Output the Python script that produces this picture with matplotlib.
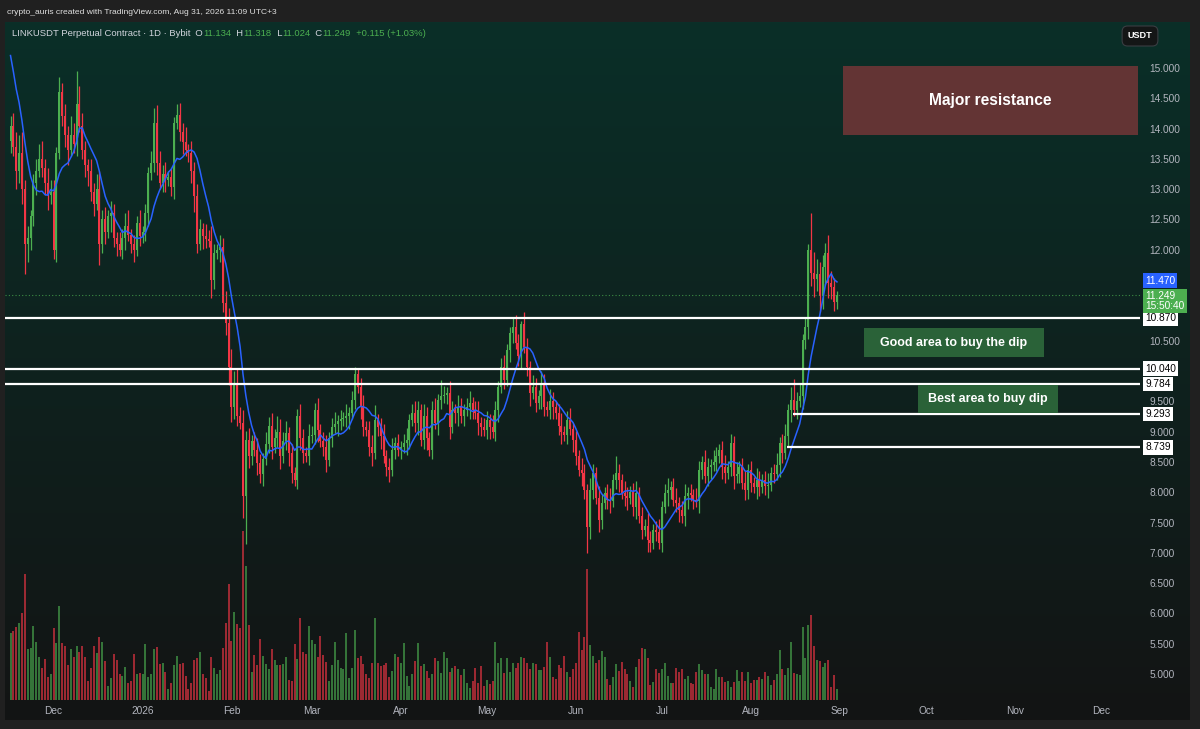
import numpy as np
import pandas as pd
import matplotlib
matplotlib.use("Agg")
import matplotlib.pyplot as plt
import matplotlib.dates as mdates
import matplotlib.transforms as mtransforms
from matplotlib.patches import Rectangle

plt.rcParams['font.family'] = ['Liberation Sans', 'DejaVu Sans']

# ---------------- data ----------------
first_day = '2025-11-16'
first_open = 13.8
# closes before the visible window, only used to seed the 9-day MA
pre_closes = [16.1, 15.9, 15.6, 15.7, 15.3, 15.0, 14.8, 14.4]

close_nov = [14.05, 13.7, 13.3, 13.6, 13.0, 12.1, 12.2, 12.55, 13.1, 13.3, 13.5, 13.35, 13.1, 12.9, 12.95]
close_dec = [12.0, 13.6, 14.6, 14.2, 13.9, 13.65, 13.9, 13.75, 14.4, 14.05, 13.65, 13.4, 13.3, 12.95, 12.75,
             13.0, 12.1, 12.5, 12.3, 12.55, 12.6, 12.2, 12.1, 12.0, 12.2, 12.4, 12.25, 12.1, 12.0, 12.45, 12.22]
close_jan = [12.3, 12.6, 13.26, 13.43, 14.09, 13.43, 13.1, 13.25, 13.15, 13.2, 13.04, 14.09, 14.22, 13.95, 13.78,
             13.65, 13.6, 13.3, 12.88, 12.1, 12.35, 12.22, 12.18, 12.15, 11.5, 11.95, 12.0, 12.05, 11.12, 10.79, 10.07]
close_feb = [9.41, 9.8, 9.25, 9.15, 7.93, 8.86, 8.6, 8.85, 8.7, 8.48, 8.3, 8.55, 8.8, 9.1, 8.75,
             8.9, 9.0, 8.59, 8.85, 8.97, 8.64, 8.31, 8.2, 9.25, 8.9, 8.64, 8.6, 8.92]
close_mar = [8.95, 9.36, 9.03, 8.85, 8.75, 8.53, 8.9, 9.08, 9.12, 9.17, 9.2, 9.22, 9.25, 9.3, 9.52,
             9.95, 9.74, 9.41, 9.08, 9.03, 8.75, 8.64, 9.19, 9.08, 8.92, 8.59, 8.42, 8.37, 8.7, 8.81, 8.7]
close_apr = [8.75, 8.81, 8.86, 9.19, 9.3, 9.14, 9.36, 8.86, 9.25, 8.9, 8.7, 9.36, 9.14, 9.52, 9.58,
             9.6, 9.63, 9.08, 9.36, 9.3, 9.41, 9.25, 9.35, 9.41, 9.47, 9.36, 9.3, 9.14, 9.08, 9.03]
close_may = [9.19, 9.08, 9.0, 9.36, 9.74, 10.07, 9.85, 10.35, 10.62, 10.73, 10.46, 10.24, 10.78, 10.4, 10.07,
             9.63, 9.74, 9.47, 9.58, 9.8, 9.41, 9.35, 9.5, 9.41, 9.3, 9.1, 9.0, 8.95, 9.19, 9.05, 8.86]
close_jun = [8.6, 8.37, 8.31, 8.04, 7.43, 8.04, 8.31, 7.9, 7.54, 7.82, 7.98, 7.87, 7.85, 8.2, 8.31,
             8.2, 7.98, 7.93, 7.9, 8.0, 7.76, 7.98, 7.6, 7.38, 7.45, 7.21, 7.16, 7.38, 7.35, 7.16]
close_jul = [7.76, 7.98, 8.04, 8.09, 7.87, 7.82, 7.71, 7.6, 7.93, 7.98, 7.95, 7.87, 7.85, 8.37, 8.5,
             8.26, 8.42, 8.45, 8.5, 8.59, 8.7, 8.42, 8.31, 8.42, 8.81, 8.26, 8.3, 8.42, 8.15, 8.04, 8.37]
close_aug = [8.15, 8.09, 8.2, 8.09, 8.2, 8.1, 8.12, 8.31, 8.3, 8.45, 8.81, 8.64, 8.92, 9.36, 9.52,
             9.36, 9.5, 9.58, 10.51, 10.73, 12.0, 11.61, 11.52, 11.6, 11.23, 11.72, 11.94, 11.45, 11.39, 11.134, 11.249]

# wick length above the body / below the body, one per day
wick_up = [
    0.15, 0.2, 0.25, 0.3, 0.35, 0.15, 0.2, 0.1, 0.15, 0.2, 0.25, 0.3, 0.15, 0.25, 0.2,
    0.2, 0.1, 0.25, 0.15, 0.2, 0.15, 0.3, 0.2, 0.55, 0.3, 0.2, 0.15, 0.1, 0.2, 0.15, 0.25, 0.3, 0.15, 0.2, 0.1, 0.2, 0.15, 0.1, 0.2, 0.15, 0.2, 0.25, 0.1, 0.15, 0.1, 0.2,
    0.1, 0.15, 0.1, 0.2, 0.25, 0.3, 0.2, 0.15, 0.2, 0.1, 0.15, 0.1, 0.18, 0.2, 0.15, 0.25, 0.1, 0.2, 0.15, 0.2, 0.15, 0.1, 0.2, 0.15, 0.25, 0.15, 0.1, 0.2, 0.15, 0.2, 0.25,
    0.3, 0.2, 0.25, 0.15, 0.2, 0.15, 0.2, 0.1, 0.15, 0.2, 0.15, 0.1, 0.2, 0.14, 0.2, 0.15, 0.25, 0.2, 0.15, 0.2, 0.1, 0.15, 0.1, 0.12, 0.2, 0.15, 0.1, 0.2,
    0.15, 0.12, 0.2, 0.1, 0.15, 0.2, 0.1, 0.15, 0.2, 0.1, 0.15, 0.1, 0.2, 0.1, 0.15, 0.12, 0.1, 0.15, 0.2, 0.1, 0.15, 0.2, 0.25, 0.1, 0.15, 0.2, 0.1, 0.15, 0.2, 0.1, 0.15,
    0.1, 0.15, 0.2, 0.1, 0.15, 0.2, 0.15, 0.1, 0.2, 0.15, 0.1, 0.15, 0.2, 0.1, 0.27, 0.15, 0.1, 0.2, 0.15, 0.1, 0.2, 0.15, 0.1, 0.15, 0.2, 0.1, 0.15, 0.2, 0.1, 0.15,
    0.15, 0.1, 0.2, 0.15, 0.1, 0.15, 0.2, 0.1, 0.1, 0.14, 0.2, 0.15, 0.05, 0.2, 0.15, 0.1, 0.2, 0.15, 0.1, 0.2, 0.15, 0.1, 0.2, 0.15, 0.1, 0.15, 0.2, 0.1, 0.15, 0.2, 0.1,
    0.15, 0.1, 0.2, 0.15, 0.1, 0.2, 0.15, 0.1, 0.2, 0.15, 0.1, 0.15, 0.2, 0.1, 0.28, 0.15, 0.1, 0.2, 0.15, 0.1, 0.15, 0.2, 0.1, 0.15, 0.1, 0.2, 0.15, 0.1, 0.15, 0.2,
    0.1, 0.15, 0.2, 0.1, 0.15, 0.2, 0.1, 0.15, 0.2, 0.1, 0.15, 0.1, 0.2, 0.15, 0.1, 0.2, 0.15, 0.1, 0.2, 0.15, 0.1, 0.15, 0.2, 0.1, 0.15, 0.12, 0.2, 0.1, 0.15, 0.2, 0.1,
    0.15, 0.1, 0.2, 0.15, 0.1, 0.15, 0.2, 0.1, 0.15, 0.2, 0.1, 0.15, 0.2, 0.1, 0.22, 0.35, 0.15, 0.2, 0.1, 0.15, 0.1, 0.6, 0.35, 0.25, 0.2, 0.2, 0.17, 0.3, 0.2, 0.15, 0.069,
]
wick_dn = [
    0.2, 0.15, 0.3, 0.2, 0.25, 0.5, 0.3, 0.2, 0.15, 0.2, 0.1, 0.15, 0.2, 0.25, 0.15,
    0.15, 0.2, 0.1, 0.15, 0.2, 0.25, 0.1, 0.15, 0.2, 0.1, 0.15, 0.2, 0.25, 0.15, 0.2, 0.1, 0.35, 0.15, 0.2, 0.1, 0.25, 0.15, 0.2, 0.1, 0.15, 0.2, 0.1, 0.15, 0.2, 0.1, 0.15,
    0.1, 0.15, 0.2, 0.1, 0.15, 0.2, 0.1, 0.15, 0.2, 0.1, 0.15, 0.2, 0.1, 0.15, 0.2, 0.1, 0.15, 0.2, 0.25, 0.15, 0.1, 0.2, 0.15, 0.1, 0.3, 0.15, 0.1, 0.2, 0.15, 0.2, 0.3,
    0.25, 0.2, 0.15, 0.1, 0.35, 0.78, 0.2, 0.15, 0.1, 0.2, 0.15, 0.2, 0.1, 0.15, 0.2, 0.1, 0.15, 0.2, 0.1, 0.15, 0.2, 0.15, 0.1, 0.15, 0.2, 0.15, 0.1, 0.15,
    0.1, 0.15, 0.2, 0.1, 0.15, 0.2, 0.1, 0.15, 0.1, 0.2, 0.15, 0.1, 0.15, 0.2, 0.1, 0.15, 0.1, 0.2, 0.15, 0.1, 0.15, 0.2, 0.1, 0.15, 0.2, 0.1, 0.15, 0.2, 0.1, 0.15, 0.1,
    0.15, 0.1, 0.2, 0.15, 0.1, 0.15, 0.2, 0.1, 0.15, 0.2, 0.1, 0.15, 0.1, 0.2, 0.15, 0.1, 0.15, 0.2, 0.1, 0.15, 0.2, 0.1, 0.15, 0.1, 0.2, 0.15, 0.1, 0.2, 0.15, 0.1,
    0.15, 0.2, 0.1, 0.15, 0.2, 0.1, 0.15, 0.1, 0.2, 0.15, 0.1, 0.15, 0.2, 0.1, 0.15, 0.2, 0.1, 0.15, 0.1, 0.2, 0.15, 0.1, 0.15, 0.2, 0.1, 0.15, 0.2, 0.1, 0.15, 0.1, 0.2,
    0.15, 0.1, 0.2, 0.15, 0.43, 0.2, 0.15, 0.1, 0.2, 0.15, 0.1, 0.15, 0.2, 0.1, 0.15, 0.2, 0.1, 0.15, 0.2, 0.1, 0.15, 0.2, 0.1, 0.15, 0.1, 0.2, 0.15, 0.1, 0.15, 0.1,
    0.15, 0.1, 0.2, 0.15, 0.1, 0.15, 0.2, 0.1, 0.15, 0.2, 0.1, 0.15, 0.1, 0.2, 0.15, 0.1, 0.15, 0.2, 0.1, 0.15, 0.1, 0.2, 0.15, 0.1, 0.15, 0.2, 0.1, 0.15, 0.1, 0.17, 0.15,
    0.15, 0.1, 0.2, 0.15, 0.1, 0.15, 0.2, 0.1, 0.15, 0.1, 0.2, 0.15, 0.1, 0.15, 0.2, 0.1, 0.15, 0.1, 0.2, 0.15, 0.2, 0.2, 0.3, 0.2, 0.25, 0.2, 0.3, 0.25, 0.2, 0.15, 0.11,
]

volume_a = [
    67, 69, 73, 77, 87, 126, 51, 52, 74, 58, 43, 32, 41, 23, 26, 72, 57, 94, 57, 54,
    35, 51, 43, 54, 48, 54, 43, 19, 32, 54, 47, 63, 58, 39, 14, 22, 46, 40, 26, 24,
    33, 17, 19, 46, 26, 27, 26, 56, 23, 26, 51, 53, 36, 37, 28, 11, 17, 35, 44, 36,
    37, 24, 11, 17, 40, 42, 48, 26, 22, 9, 43, 32, 26, 30, 52, 77, 116, 59, 88, 76,
    72, 169, 134, 75, 28, 45, 35, 61, 44, 36, 31, 51, 40, 35, 35, 36, 43, 20, 19, 56,
    41, 82, 48, 46, 74, 60, 56, 43, 64, 45, 38, 19, 35, 58, 40, 32, 31, 67, 22, 32,
    70, 42, 44, 36, 26, 22, 37, 82, 37, 34, 35, 37, 23, 29, 46, 43, 37, 57, 24, 14,
    26, 39, 57,
]
volume_b = [
    34, 36, 29, 22, 26, 42, 39, 27, 48, 42, 28, 32, 34, 31, 25, 31, 17, 12, 19, 32,
    17, 34, 14, 20, 16, 19, 58, 37, 42, 27, 42, 28, 37, 32, 37, 43, 42, 37, 31, 37,
    36, 30, 30, 33, 58, 43, 23, 21, 35, 32, 44, 28, 23, 31, 37, 68, 50, 63, 131, 55,
    44, 37, 40, 49, 43, 21, 15, 23, 36, 29, 38, 31, 26, 19, 13, 33, 41, 52, 51, 42,
    15, 18, 31, 27, 31, 37, 24, 17, 17, 32, 28, 31, 21, 24, 17, 16, 28, 36, 30, 26,
    26, 13, 11, 31, 23, 23, 18, 19, 13, 18, 30, 19, 28, 19, 28, 17, 20, 20, 23, 21,
    28, 24, 15, 20, 26, 50, 31, 25, 32, 58, 27, 26, 25, 73, 42, 75, 85, 54, 40, 39,
    33, 37, 40, 13, 25, 11,
]

level_prices = [10.870, 10.040, 9.784, 9.293, 8.739]
level_from_day = [None, None, None, 272.6, 270.6]
# scale values covered by the price labels on the right
hidden_ticks = [11.5, 11.0, 10.0]

# ---------------- derived series ----------------
closes = np.array(close_nov + close_dec + close_jan + close_feb + close_mar +
                  close_apr + close_may + close_jun + close_jul + close_aug)
opens = np.r_[first_open, closes[:-1]]
highs = np.maximum(opens, closes) + np.array(wick_up)
lows = np.minimum(opens, closes) - np.array(wick_dn)
volume = np.array(volume_a + volume_b)
sma9 = pd.Series(pre_closes + list(closes)).rolling(9).mean().to_numpy()[len(pre_closes):]

dates = pd.date_range(first_day, periods=len(closes))
x = mdates.date2num(dates)

UP, DN = '#4caf50', '#f23645'
cols = np.where(closes >= opens, UP, DN)

# ---------------- figure ----------------
W, H = 1200, 729
fig = plt.figure(figsize=(12, 7.29), dpi=100, facecolor='#202020')


def frect(left, top, right, bottom):
    return [left / W, 1 - bottom / H, (right - left) / W, (bottom - top) / H]


# gradient background of the chart panel
bg = fig.add_axes(frect(5, 22, 1190, 720))
t = np.linspace(0, 1, 256)[:, None, None]
c_top = np.array([10, 47, 40]) / 255
c_bot = np.array([19, 20, 20]) / 255
bg.imshow(c_top * (1 - t) + c_bot * t, aspect='auto', extent=[0, 1, 0, 1])
bg.axis('off')

vax = fig.add_axes(frect(5, 22, 1140, 700))
ax = fig.add_axes(frect(5, 22, 1140, 700), sharex=vax)
for a in (vax, ax):
    a.set_facecolor('none')
    for s in a.spines.values():
        s.set_visible(False)

# volume
vax.bar(x, volume, width=0.7, color=cols, alpha=0.62, linewidth=0)
vax.set_ylim(0, 678)
vax.set_yticks([])
vax.tick_params(axis='x', length=0, labelbottom=False)

# candles
ax.vlines(x, lows, highs, colors=cols, linewidth=0.9, zorder=2)
body = np.maximum(np.abs(closes - opens), 0.015)
ax.bar(x, body, bottom=np.minimum(opens, closes), width=0.7, color=cols, linewidth=0, zorder=3)
ax.plot(x, sma9, color='#2962ff', linewidth=1.1, zorder=4)

x_left, x_right = x[0] - 1.92, x[0] + 393.6
ax.set_xlim(x_left, x_right)
ax.set_ylim(4.571, 15.759)

# last price dotted line
ax.axhline(closes[-1], color=UP, linewidth=0.8, linestyle=(0, (1, 2)), alpha=0.75, zorder=4)

# horizontal levels
for p, d in zip(level_prices, level_from_day):
    x0 = x_left if d is None else x[0] + d
    ax.hlines(p, x0, x_right, color='white', linewidth=1.6, zorder=5)

# text boxes drawn on the chart
boxes = [
    (290.1, 392.9, 13.89, 15.03, '#633434', 'Major resistance', 11.2),
    (297.4, 360.1, 10.23, 10.71, '#2a6238', 'Good area to buy the dip', 9.0),
    (316.2, 365.0, 9.30, 9.77, '#2a6238', 'Best area to buy dip', 9.0),
]
for d0, d1, p0, p1, fc, label, fs in boxes:
    ax.add_patch(Rectangle((x[0] + d0, p0), d1 - d0, p1 - p0, facecolor=fc, edgecolor='none', zorder=6))
    ax.text(x[0] + (d0 + d1) / 2, (p0 + p1) / 2, label, ha='center', va='center', color='white',
            fontsize=fs, fontweight='bold', zorder=7)

# axes ticks
ax.yaxis.tick_right()
yt = np.arange(5.0, 15.01, 0.5)
ax.set_yticks(yt)
ax.set_yticklabels(['' if round(v, 1) in hidden_ticks else f'{v:.3f}' for v in yt])
ax.tick_params(axis='y', length=0, pad=7, labelsize=7.3, labelcolor='#b2b5be')
months = pd.date_range('2025-12-01', '2026-12-01', freq='MS')
ax.set_xticks(mdates.date2num(months))
ax.set_xticklabels(['2026' if m.month == 1 else m.strftime('%b') for m in months])
ax.tick_params(axis='x', length=0, pad=4, labelsize=7.3, labelcolor='#b2b5be')

# price scale labels
tr = mtransforms.blended_transform_factory(ax.transAxes, ax.transData)
for p in level_prices:
    ax.text(1.0045, p, f'{p:.3f}', transform=tr, ha='left', va='center', fontsize=7.3, color='black',
            bbox=dict(boxstyle='square,pad=0.22', fc='white', ec='none'), zorder=10, clip_on=False)
ax.text(1.0045, sma9[-1] + 0.02, f'{sma9[-1]:.3f}', transform=tr, ha='left', va='center', fontsize=7.3,
        color='white', bbox=dict(boxstyle='square,pad=0.22', fc='#2962ff', ec='none'), zorder=10, clip_on=False)
ax.text(1.0045, closes[-1] + 0.07, f'{closes[-1]:.3f}\n15:50:40', transform=tr, ha='left', va='top',
        fontsize=7.3, color='white', linespacing=1.0,
        bbox=dict(boxstyle='square,pad=0.22', fc=UP, ec='none'), zorder=11, clip_on=False)

# header texts
fig.text(7 / W, 1 - 12 / H, 'crypto_auris created with TradingView.com, Aug 31, 2026 11:09 UTC+3',
         color='#e0e0e0', fontsize=6.1, va='center', ha='left')
fig.text(1140 / W, 1 - 36 / H, 'USDT', color='white', fontsize=6.6, fontweight='bold', ha='center', va='center',
         bbox=dict(boxstyle='round,pad=0.6', fc='#141616', ec='#3a3d42', lw=0.8))

o, h, l, c = opens[-1], highs[-1], lows[-1], closes[-1]
chg = c - o
header = [
    ('LINKUSDT Perpetual Contract · 1D · Bybit', '#d1d4dc'),
    ('  O', '#d1d4dc'), (f'{o:.3f}', UP),
    ('  H', '#d1d4dc'), (f'{h:.3f}', UP),
    ('  L', '#d1d4dc'), (f'{l:.3f}', UP),
    ('  C', '#d1d4dc'), (f'{c:.3f}', UP),
    (f'  +{chg:.3f} (+{chg / o * 100:.2f}%)', UP),
]
renderer = fig.canvas.get_renderer()
xp = 12
for s, col in header:
    txt = fig.text(xp / W, 1 - 33 / H, s, color=col, fontsize=6.8, va='center', ha='left')
    xp += txt.get_window_extent(renderer=renderer).width

fig.savefig('out.png', dpi=100, facecolor=fig.get_facecolor())
